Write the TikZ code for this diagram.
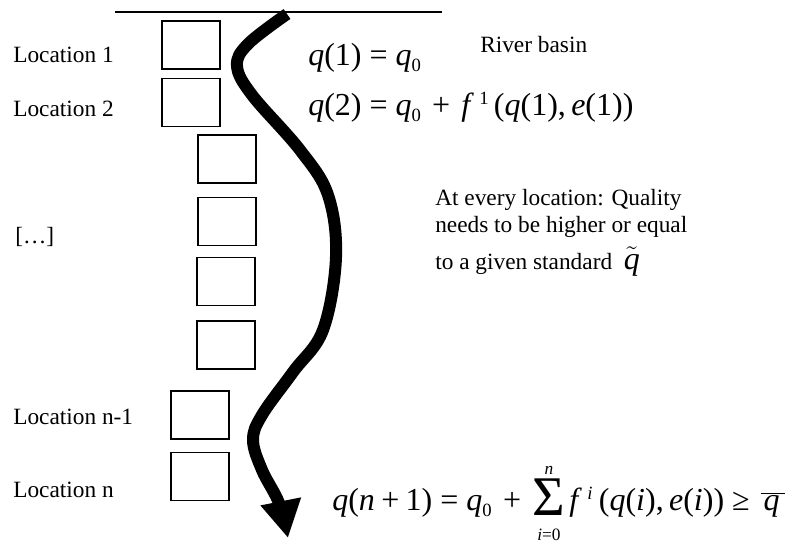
\documentclass[tikz,border=0pt]{standalone}
\usepackage{fontspec}
\setmainfont{Liberation Serif}
\usetikzlibrary{arrows.meta}
\newcommand{\mi}[1]{\textit{#1}}
\newcommand{\eqsp}{\hspace{0.25em}}
\newcommand{\opsp}{\hspace{0.35em}}
\newcommand{\lowidx}[1]{\raisebox{-5pt}{\fontsize{14}{14}\selectfont #1}}
\newcommand{\upidx}[1]{\raisebox{8pt}{\fontsize{14}{14}\selectfont #1}}
\newcommand{\bigsum}[2]{\makebox[25pt]{\raisebox{-3.75pt}{\fontsize{42}{42}\selectfont Σ}}%
  \llap{\makebox[25pt]{\raisebox{27pt}{\fontsize{13}{13}\selectfont #2}}}%
  \llap{\makebox[25pt]{\raisebox{-22.5pt}{\fontsize{13}{13}\selectfont #1}}}}
\tikzset{
  locbox/.style={draw, line width=1.2pt, minimum width=43.5pt, minimum height=36pt, inner sep=0pt},
  loclabel/.style={anchor=base west, inner sep=0pt, font=\fontsize{17.5}{21}\selectfont},
  eqlabel/.style={anchor=base west, inner sep=0pt, font=\fontsize{24}{28}\selectfont},
}
\begin{document}
\begin{tikzpicture}[x=0.75pt, y=-0.75pt]
    \useasboundingbox (0,0) rectangle (802,544);
    \draw[line width=1pt] (115,12) -- (442,12);
    \node[locbox] (b1) at (191,45) {};
    \node[locbox] (b2) at (191,102.5) {};
    \node[locbox] (b3) at (227,159) {};
    \node[locbox] (b4) at (227,221.5) {};
    \node[locbox] (b5) at (226,281.5) {};
    \node[locbox] (b6) at (226,345) {};
    \node[locbox] (b7) at (200,415) {};
    \node[locbox] (b8) at (200,476.5) {};
    \node[loclabel] (loc1) at (13,62) {Location 1};
    \node[loclabel] (loc2) at (13,116) {Location 2};
    \node[loclabel] (dots) at (15,243) {[…]};
    \node[loclabel] (locn1) at (13,424) {Location n-1};
    \node[loclabel] (locn) at (13,497) {Location n};
    \node[loclabel] (basin) at (480,52) {River basin};
    \node[eqlabel] (eq1) at (308,65) {\mi{q}(1)\eqsp=\eqsp\mi{q}\lowidx{0}};
    \node[eqlabel] (eq2) at (308,115)
        {\mi{q}(2)\eqsp=\eqsp\mi{q}\lowidx{0}\opsp+\opsp\mi{f}\,\upidx{1}\,(\mi{q}(1),\,\mi{e}(1))};
    \node[loclabel] (rule1) at (435,205) {At every location: Quality};
    \node[loclabel] (rule2) at (435,232) {needs to be higher or equal};
    \node[loclabel] (rule3) at (435,269)
        {to a given standard \ {\fontsize{24}{28}\selectfont\(\tilde{\hbox{\mi{q}}}\)}};
    \node[eqlabel] (eqn) at (332,510)
        {\mi{q}(\mi{n}\hspace{0.2em}+\hspace{0.2em}1)\eqsp=\eqsp\mi{q}\lowidx{0}\opsp+\opsp\bigsum{\mi{i}=0}{\mi{n}}\hspace{0.12em}\mi{f}\,\upidx{\mi{i}}\hspace{0.2em}(\mi{q}(\mi{i}),\,\mi{e}(\mi{i}))\hspace{0.25em}≥\hspace{0.35em}\(\overline{\hbox{\hspace{2pt}\mi{q}\hspace{4pt}}}\)};
    \coordinate (src) at (287,14);
    \coordinate (mouth) at (288,538);
    \draw[line width=9pt, -{Triangle[length=28pt, width=29pt]}]
        plot[smooth, tension=0.6] coordinates {(src) (248,44) (237,66) (252,95) (300,150)
        (328,195) (336,257) (323,330) (293,372) (262,415) (253,440) (262,470) (279,503) (mouth)};
\end{tikzpicture}
\end{document}
